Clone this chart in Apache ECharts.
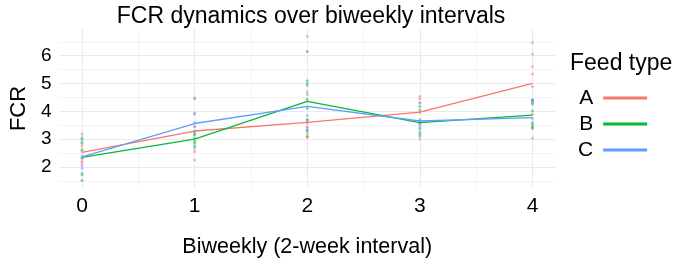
<!DOCTYPE html>
<html>
<head>
<meta charset="utf-8">
<script src="https://cdn.jsdelivr.net/npm/echarts@6/dist/echarts.min.js"></script>
<style>
  html, body { margin: 0; padding: 0; background: #fff; }
  #chart { width: 673px; height: 263px; }
</style>
</head>
<body>
<div id="chart"></div>
<script>
// data
const weeks = [0, 1, 2, 3, 4];
const feedTypes = ['A', 'B', 'C'];
const colors = ['#F8766D', '#00BA38', '#619CFF'];

// mean FCR lines
const meanA = [2.52, 3.29, 3.60, 3.97, 5.00];
const meanB = [2.34, 3.00, 4.36, 3.59, 3.86];
const meanC = [2.36, 3.56, 4.18, 3.65, 3.77];

// individual FCR points, one list per week
const pointsA = [
  [3.18, 2.75, 2.55, 2.30, 2.14, 2.20],
  [4.45, 3.90, 3.45, 3.15, 2.55, 2.25],
  [4.69, 3.64, 3.44, 3.20, 3.06, 3.57],
  [4.54, 4.45, 4.31, 3.96, 3.55, 3.00],
  [6.47, 6.06, 5.60, 5.34, 4.89, 4.40, 3.90, 3.40]
];
const pointsB = [
  [3.00, 2.85, 2.62, 2.33, 1.51, 1.72],
  [3.29, 3.17, 3.03, 2.85, 2.74, 2.92],
  [6.15, 5.10, 5.00, 4.43, 4.10, 3.70, 3.30, 3.10],
  [4.17, 3.60, 3.38, 3.20, 3.11, 4.05],
  [4.40, 4.30, 4.02, 3.55, 3.47, 3.40]
];
const pointsC = [
  [3.05, 2.92, 2.40, 2.05, 1.94, 1.78],
  [4.49, 3.93, 3.60, 3.44, 3.23, 2.67],
  [6.70, 4.93, 4.60, 3.85, 3.69, 3.32, 3.40],
  [3.67, 3.55, 3.46, 3.26, 4.30, 3.70],
  [4.43, 4.35, 4.25, 3.73, 3.03, 3.60]
];

const yTicks = [2, 3, 4, 5, 6];
const yMinor = [1.5, 2.5, 3.5, 4.5, 5.5, 6.5];
const xTicks = [0, 1, 2, 3, 4];
const xMinor = [0.5, 1.5, 2.5, 3.5];

const means = [meanA, meanB, meanC];
const points = [pointsA, pointsB, pointsC];

const font = 'Liberation Sans, Arial, sans-serif';
const grid = '#EBEBEB';

const series = [];
// 散点
feedTypes.forEach((f, i) => {
  const data = [];
  points[i].forEach((vals, w) => {
    vals.forEach(v => data.push([weeks[w], v]));
  });
  series.push({
    name: f + '_pts',
    type: 'scatter',
    data: data,
    symbolSize: 3,
    itemStyle: { color: colors[i], opacity: 0.5 },
    silent: true,
    z: 2
  });
});
// 折线
feedTypes.forEach((f, i) => {
  series.push({
    name: f,
    type: 'line',
    data: weeks.map((w, k) => [w, means[i][k]]),
    showSymbol: false,
    lineStyle: { color: colors[i], width: 1.3 },
    itemStyle: { color: colors[i] },
    z: 3
  });
});

const chart = echarts.init(document.getElementById('chart'));
chart.setOption({
  animation: false,
  title: [
    {
      text: 'FCR dynamics over biweekly intervals',
      left: 306, top: 0, textAlign: 'center',
      textStyle: { fontFamily: font, fontSize: 23, fontWeight: 'normal', color: '#000' }
    },
    {
      text: 'Feed type',
      left: 565, top: 47,
      textStyle: { fontFamily: font, fontSize: 23, fontWeight: 'normal', color: '#000' }
    }
  ],
  legend: {
    data: feedTypes.map(f => ({ name: f, icon: 'rect' })),
    orient: 'vertical',
    left: 573, top: 80,
    align: 'right',
    itemWidth: 44, itemHeight: 3, itemGap: 0,
    textStyle: { fontFamily: font, fontSize: 21, color: '#000', lineHeight: 26, padding: [0, 5, 0, 0] }
  },
  grid: { left: 57, right: 118, top: 29, bottom: 70 },
  xAxis: [
    {
      type: 'value', min: -0.2, max: 4.2,
      axisLine: { show: false },
      axisTick: { show: false, customValues: xTicks },
      axisLabel: { customValues: xTicks, fontFamily: font, fontSize: 21, color: '#000', margin: 8 },
      splitLine: { show: true, lineStyle: { color: grid, width: 1.1 } },
      name: 'Biweekly (2-week interval)',
      nameLocation: 'middle', nameGap: 48,
      nameTextStyle: { fontFamily: font, fontSize: 21.5, color: '#000' }
    },
    {
      type: 'value', min: -0.2, max: 4.2, position: 'bottom',
      axisLine: { show: false },
      axisTick: { show: false, customValues: xMinor },
      axisLabel: { show: false },
      splitLine: { show: true, lineStyle: { color: grid, width: 0.6 } }
    }
  ],
  yAxis: [
    {
      type: 'value', min: 1.24, max: 6.96,
      axisLine: { show: false },
      axisTick: { show: false, customValues: yTicks },
      axisLabel: { customValues: yTicks, fontFamily: font, fontSize: 19, color: '#000', margin: 8 },
      splitLine: { show: true, lineStyle: { color: grid, width: 1.1 } },
      name: 'FCR',
      nameLocation: 'middle', nameGap: 29,
      nameTextStyle: { fontFamily: font, fontSize: 22, color: '#000' }
    },
    {
      type: 'value', min: 1.24, max: 6.96, position: 'left',
      axisLine: { show: false },
      axisTick: { show: false, customValues: yMinor },
      axisLabel: { show: false },
      splitLine: { show: true, lineStyle: { color: grid, width: 0.6 } }
    }
  ],
  series: series
});
</script>
</body>
</html>
